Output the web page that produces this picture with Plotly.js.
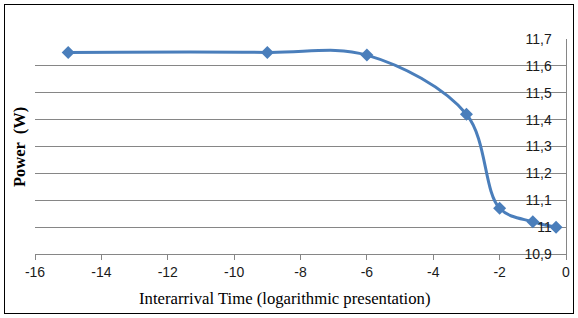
<!DOCTYPE html>
<html>
<head>
<meta charset="utf-8">
<script src="https://cdn.plot.ly/plotly-3.0.1.min.js"></script>
<style>
html,body{margin:0;padding:0;background:#fff;}
#wrap{position:relative;width:578px;height:318px;}
#chart{width:578px;height:318px;}
#frame{position:absolute;left:4px;top:4px;width:568px;height:308px;border:1px solid #000;pointer-events:none;}
</style>
</head>
<body>
<div id="wrap"><div id="chart"></div><div id="frame"></div></div>
<script>
const interarrival = [-15, -9, -6, -3, -2, -1, -0.3];
const power = [11.65, 11.65, 11.64, 11.42, 11.07, 11.02, 11.0];
const xTickVals = [-16, -14, -12, -10, -8, -6, -4, -2, 0];
const xTickText = ['-16', '-14', '-12', '-10', '-8', '-6', '-4', '-2', '0'];
const yTickVals = [10.9, 11.0, 11.1, 11.2, 11.3, 11.4, 11.5, 11.6, 11.7];
const yTickText = ['10,9', '11', '11,1', '11,2', '11,3', '11,4', '11,5', '11,6', '11,7'];
const xTitle = 'Interarrival Time (logarithmic presentation)';
const yTitle = 'Power  (W)';

const L = 35, R = 12, T = 39, B = 64, W = 578, H = 318;
const pw = W - L - R, ph = H - T - B;

const trace = {
  x: interarrival, y: power, type: 'scatter', mode: 'lines+markers',
  line: {color: '#4a7ebb', width: 3, shape: 'spline', smoothing: 1},
  marker: {symbol: 'diamond', size: 10, color: '#4a7ebb'},
  hoverinfo: 'skip'
};

const layout = {
  width: W, height: H,
  margin: {l: L, r: R, t: T, b: B},
  paper_bgcolor: '#fff', plot_bgcolor: '#fff',
  showlegend: false,
  font: {family: 'Liberation Sans, Arial, sans-serif', size: 14, color: '#1a1a1a'},
  xaxis: {
    range: [-16, 0], tickmode: 'array', tickvals: xTickVals, ticktext: xTickText,
    showgrid: false, zeroline: false,
    showline: true, linecolor: '#868686', linewidth: 1,
    ticks: 'outside', ticklen: 5, tickcolor: '#868686',
    tickfont: {size: 14, color: '#1a1a1a'}
  },
  yaxis: {
    range: [10.9, 11.7], tickmode: 'array', tickvals: yTickVals, ticktext: yTickText,
    side: 'right', ticklabelposition: 'inside', ticklabeloverflow: 'allow',
    ticklabelstandoff: 14,
    showgrid: true, gridcolor: '#868686', gridwidth: 1, zeroline: false,
    showline: true, linecolor: '#868686', linewidth: 1,
    ticks: '', tickfont: {size: 14, color: '#1a1a1a'}
  },
  annotations: [{
    xref: 'paper', yref: 'paper', x: (19 - L) / pw, y: (H - B - 147) / ph,
    text: '<b>' + yTitle + '</b>', textangle: -90, showarrow: false,
    font: {family: 'Liberation Serif, Times New Roman, serif', size: 16.5, color: '#000'},
    xanchor: 'center', yanchor: 'middle'
  }, {
    xref: 'paper', yref: 'paper', x: (285 - L) / pw, y: (H - B - 298) / ph,
    text: xTitle, showarrow: false,
    font: {family: 'Liberation Serif, Times New Roman, serif', size: 16.7, color: '#000'},
    xanchor: 'center', yanchor: 'middle'
  }]
};

Plotly.newPlot('chart', [trace], layout, {staticPlot: true, displayModeBar: false});
</script>
</body>
</html>
